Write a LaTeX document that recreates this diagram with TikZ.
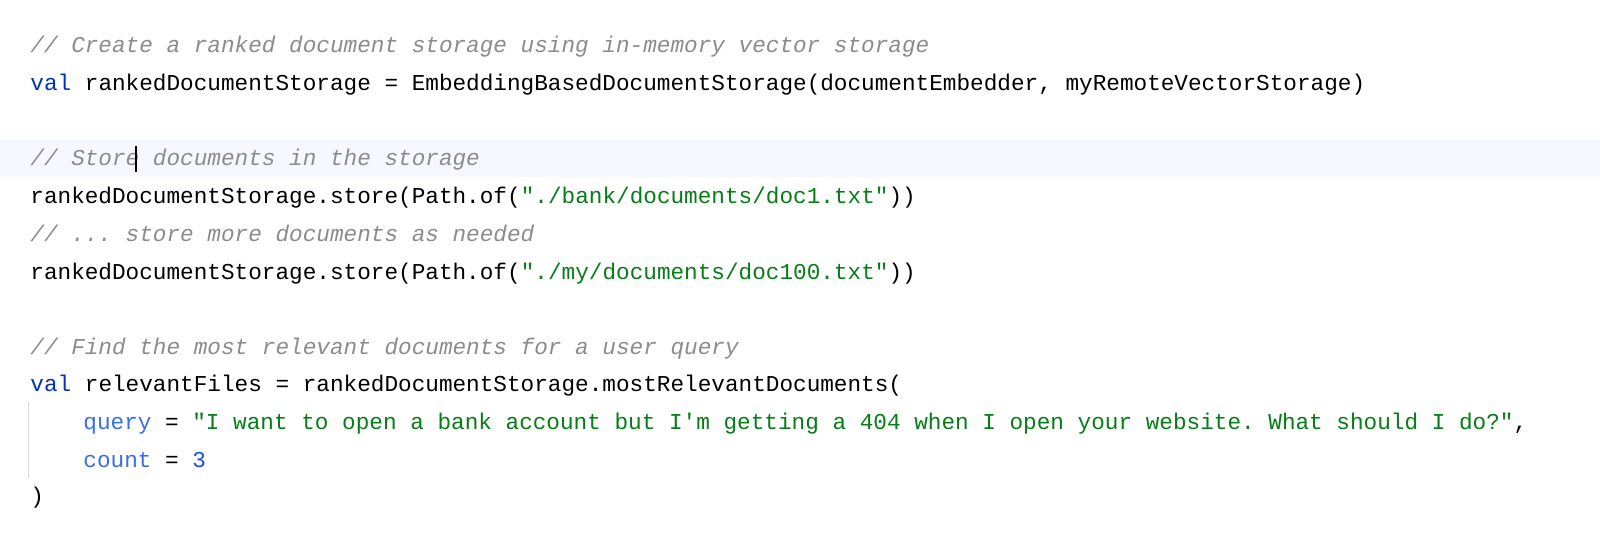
\documentclass[tikz,border=0pt]{standalone}
\usepackage{fontspec}
\setmonofont{Liberation Mono}
\definecolor{cmt}{HTML}{8C8C8C}
\definecolor{kw}{HTML}{0033B3}
\definecolor{str}{HTML}{067D17}
\definecolor{arg}{HTML}{3A6EE8}
\definecolor{num}{HTML}{1750EB}
\definecolor{hl}{HTML}{F5F8FE}
\newcommand{\cK}[1]{{\color{kw}#1}}
\newcommand{\cS}[1]{{\color{str}#1}}
\newcommand{\cA}[1]{{\color{arg}#1}}
\newcommand{\cN}[1]{{\color{num}#1}}
\newcommand{\cC}[1]{{\color{cmt}\itshape #1}}
\begin{document}
\begin{tikzpicture}[x=0.5pt,y=-0.5pt,
  code/.style={anchor=base west,inner sep=0pt,font=\ttfamily\fontsize{11.35pt}{13pt}\selectfont,text=black}]
\useasboundingbox (0,0) rectangle (1600,543);
\fill[white] (0,0) rectangle (1600,543);
\fill[hl] (0,139) rectangle (1600,177);
\draw[gray!30,line width=0.5pt] (28,402) -- (28,478);
\node[code] (l1) at (30,52) {\cC{// Create a ranked document storage using in-memory vector storage}};
\node[code] (l2) at (30,90) {\cK{val} rankedDocumentStorage = EmbeddingBasedDocumentStorage(documentEmbedder, myRemoteVectorStorage)};
\node[code] (l3) at (30,165) {\cC{// Store documents in the storage}};
\draw[black,line width=1pt] (136,146) -- (136,172);
\node[code] (l4) at (30,203) {rankedDocumentStorage.store(Path.of(\cS{"./bank/documents/doc1.txt"}))};
\node[code] (l5) at (30,241) {\cC{// ... store more documents as needed}};
\node[code] (l6) at (30,279) {rankedDocumentStorage.store(Path.of(\cS{"./my/documents/doc100.txt"}))};
\node[code] (l7) at (30,354) {\cC{// Find the most relevant documents for a user query}};
\node[code] (l8) at (30,391) {\cK{val} relevantFiles = rankedDocumentStorage.mostRelevantDocuments(};
\node[code] (l9) at (83,429) {\cA{query} = \cS{"I want to open a bank account but I'm getting a 404 when I open your website. What should I do?"},};
\node[code] (l10) at (83,467) {\cA{count} = \cN{3}};
\node[code] (l11) at (30,503) {)};
\end{tikzpicture}
\end{document}
